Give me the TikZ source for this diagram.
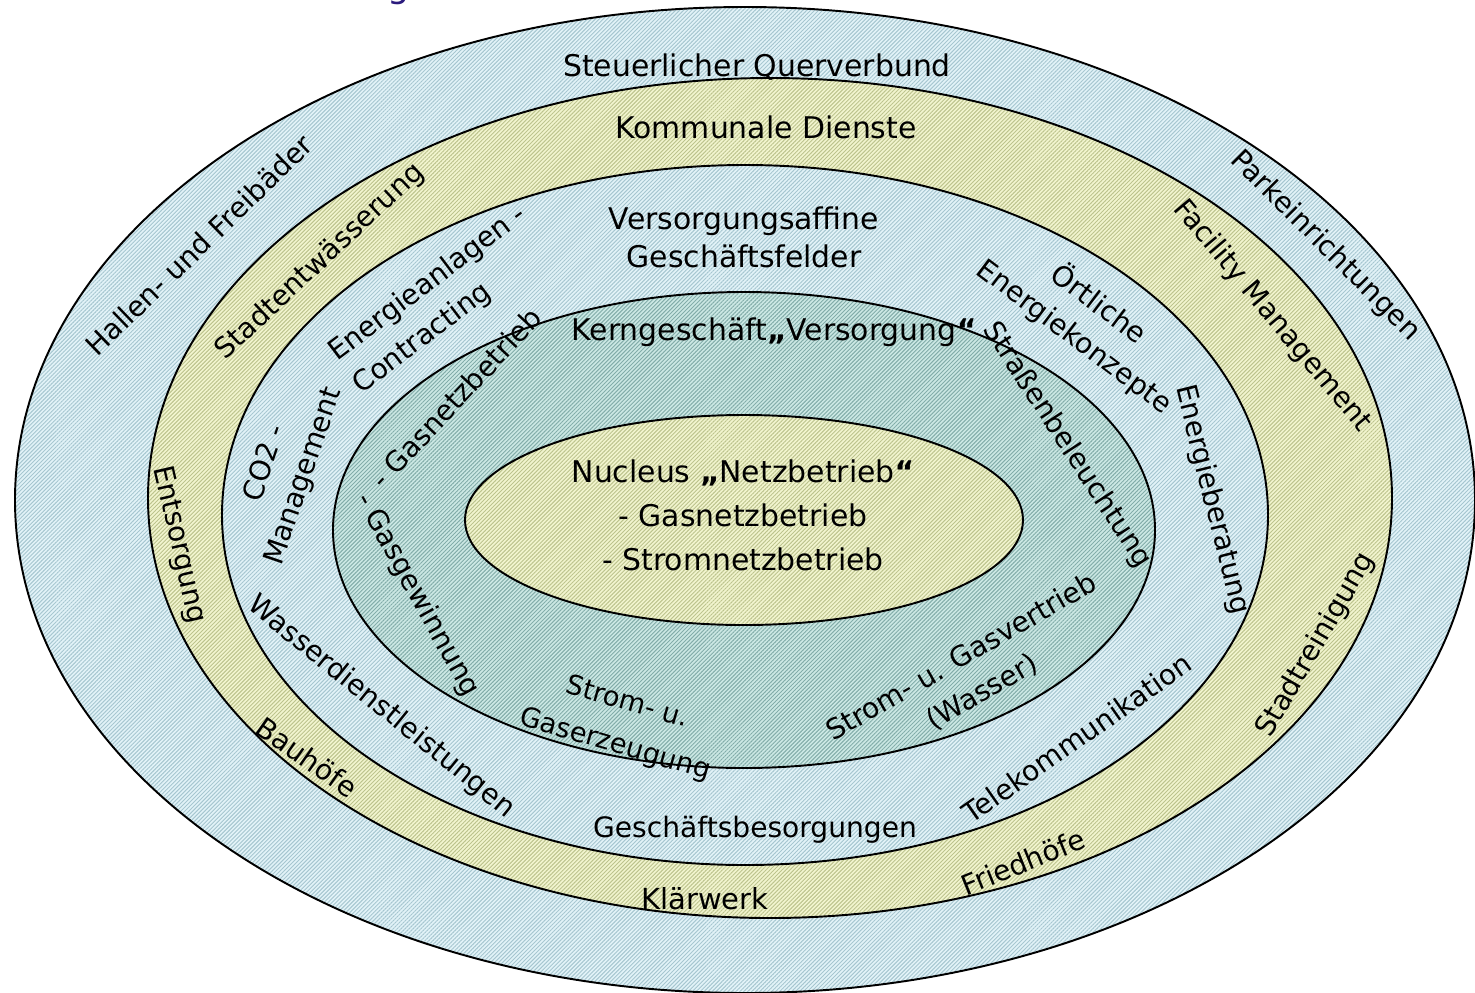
\documentclass[tikz,border=0pt]{standalone}
\usepackage{fontspec}
\setmainfont{DejaVu Sans}
\usetikzlibrary{patterns.meta}
\definecolor{blueback}{HTML}{E2F3F8}
\definecolor{bluehatch}{HTML}{A6C6D0}
\definecolor{yellowback}{HTML}{F2F5CF}
\definecolor{yellowhatch}{HTML}{BCC38D}
\definecolor{tealback}{HTML}{CCE8E4}
\definecolor{tealhatch}{HTML}{82ACA9}
\definecolor{titleblue}{HTML}{2B1B7D}
\begin{document}
\begin{tikzpicture}[x=0.02cm,y=-0.02cm,
  ring/.style 2 args={fill=#1,
    postaction={pattern={Lines[angle=45,distance=1.6pt,line width=0.55pt]},pattern color=#2},
    postaction={draw=black,line width=1.1pt}},
  lab/.style={font=\fontsize{17}{24}\selectfont,inner sep=0pt},
  rlab/.style={font=\fontsize{16}{23}\selectfont,inner sep=0pt}]
\useasboundingbox (0,0) rectangle (1475,992);
% Ringe von aussen nach innen
\path[ring={blueback}{bluehatch}] (745,500) ellipse [x radius=730,y radius=493];
\path[ring={yellowback}{yellowhatch}] (770,498) ellipse [x radius=622,y radius=420];
\path[ring={blueback}{bluehatch}] (745,515) ellipse [x radius=523,y radius=350];
\path[ring={tealback}{tealhatch}] (744,530) ellipse [x radius=411,y radius=238];
\path[ring={yellowback}{yellowhatch}] (744,520) ellipse [x radius=279,y radius=105];

\node[text=titleblue,font=\fontsize{20}{24}\selectfont,anchor=base] (titel) at (399,-3) {g};

\node[lab] (steuer) at (757,67) {Steuerlicher Querverbund};
\node[lab] (kommunal) at (766,127) {Kommunale Dienste};
\node[lab,align=center,font=\fontsize{17}{21.5}\selectfont] (affin) at (744,237) {Versorgungsaffine\\Geschäftsfelder};
\node[lab] (kern) at (774,332) {Kerngeschäft{\bfseries „}Versorgung{\bfseries “}};
\node[lab,align=center,font=\fontsize{17}{25}\selectfont] (nucleus) at (743,515) {Nucleus {\bfseries „}Netzbetrieb{\bfseries “}\\- Gasnetzbetrieb\\- Stromnetzbetrieb};
\node[lab,font=\fontsize{16}{23}\selectfont] (besorg) at (755,830) {Geschäftsbesorgungen};
\node[lab,font=\fontsize{16.5}{23}\selectfont] (klaer) at (705,899) {Klärwerk};

\foreach \nm/\x/\y/\w/\t in {hallen/199/245/44/{Hallen- und Freibäder},
    stadtent/320/262/43/{Stadtentwässerung},
    park/1325/246/-45/{Parkeinrichtungen},
    facility/1272/316/-50/{Facility Management},
    stadtrein/1316/645/60/{Stadtreinigung},
    entsorg/179/545/-77/{Entsorgung},
    bauhof/307/757/-35/{Bauhöfe},
    fried/1023/862/22/{Friedhöfe},
    telekom/1077/738/35/{Telekommunikation},
    wasserdl/381/707/-39/{Wasserdienstleistungen},
    energieb/1212/500/-76/{Energieberatung},
    gasnetz/456/398/47/{- Gasnetzbetrieb},
    gasgew/417/595/-61/{- Gasgewinnung},
    strasse/1067/445/-57/{Straßenbeleuchtung}}
    {\node[rlab,rotate=\w] (\nm) at (\x,\y) {\t};}

\node[rlab,rotate=37,align=left] (contract) at (440,300) {Energieanlagen -\\Contracting};
\node[rlab,rotate=71,align=center] (co2) at (285,470) {CO2 -\\Management};
\node[rlab,rotate=-37,align=center] (oertlich) at (1087,320) {Örtliche\\Energiekonzepte};
\node[rlab,rotate=-16,align=center,font=\fontsize{15.5}{25}\selectfont] (erzeug) at (621,724) {Strom- u.\\Gaserzeugung};
\node[rlab,rotate=30,align=center] (vertrieb) at (972,675) {Strom- u. Gasvertrieb\\(Wasser)};

\end{tikzpicture}
\end{document}
